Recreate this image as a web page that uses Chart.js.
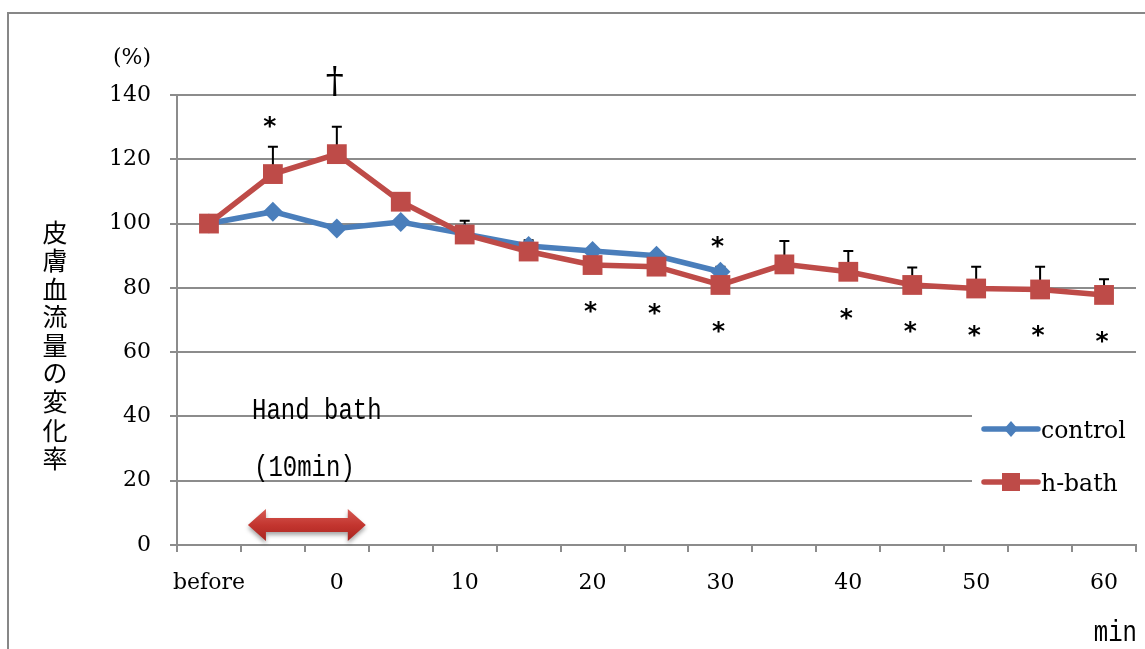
<!DOCTYPE html>
<html>
<head>
<meta charset="utf-8">
<script src="https://cdn.jsdelivr.net/npm/chart.js@4.4.0/dist/chart.umd.min.js"></script>
<style>
  html, body { margin: 0; padding: 0; background: #fff; }
  #wrap { width: 1145px; height: 649px; }
</style>
</head>
<body>
<div id="wrap"><canvas id="flow" width="1145" height="649"></canvas></div>
<script>
// time points (min), "before" = baseline
const categories = ['before', '-5', '0', '5', '10', '15', '20', '25', '30', '35', '40', '45', '50', '55', '60'];
const tickLabels = ['before', '', '0', '', '10', '', '20', '', '30', '', '40', '', '50', '', '60'];
const controlValues = [100, 103.7, 98.5, 100.5, 96.8, 93, 91.5, 90, 85, null, null, null, null, null, null];
const bathValues = [100, 115.4, 121.6, 106.8, 96.6, 91.3, 87.1, 86.6, 80.9, 87.3, 85, 80.9, 79.8, 79.5, 77.8];
const bathErrorTop = [null, 123.9, 130.1, 109.3, 100.9, 94.8, null, null, 86.6, 94.6, 91.5, 86.3, 86.6, 86.6, 82.7];
const marksAbove = ['', '*', '†', '', '', '', '', '', '*', '', '', '', '', '', ''];
const marksBelow = ['', '', '', '', '', '', '*', '*', '*', '', '*', '*', '*', '*', '*'];
const bathSpan = [1, 2]; // indices covered by the 10 min hand bath

const BLUE = '#4a7ebb';
const RED = '#be4b48';
const GRID = '#8c8c8c';
const SERIF = '"DejaVu Serif", serif';
const MONO = '"Liberation Mono", "DejaVu Sans Mono", monospace';
const STAR = 'bold 25px "DejaVu Sans"';

function inkText(ctx, txt, x, yc) {
  // vertically centre the glyph ink on yc
  const m = ctx.measureText(txt);
  ctx.fillText(txt, x, yc + (m.actualBoundingBoxAscent - m.actualBoundingBoxDescent) / 2);
}

function tallText(ctx, txt, x, y, sy) {
  ctx.save();
  ctx.translate(x, y);
  ctx.scale(1, sy);
  ctx.fillText(txt, 0, 0);
  ctx.restore();
}

const decor = {
  id: 'decor',
  beforeDraw(chart) {
    const ctx = chart.ctx;
    ctx.save();
    ctx.strokeStyle = '#878787';
    ctx.lineWidth = 2;
    ctx.beginPath();
    ctx.moveTo(8, 649);
    ctx.lineTo(8, 13);
    ctx.lineTo(1145, 13);
    ctx.stroke();
    ctx.restore();
  },
  beforeDatasetsDraw(chart) {
    const { ctx, scales: { x, y } } = chart;
    ctx.save();
    ctx.strokeStyle = '#000';
    ctx.lineWidth = 2;
    bathErrorTop.forEach((top, i) => {
      if (top == null) return;
      const px = x.getPixelForValue(i);
      const y0 = y.getPixelForValue(bathValues[i]);
      const y1 = y.getPixelForValue(top);
      ctx.beginPath();
      ctx.moveTo(px, y0);
      ctx.lineTo(px, y1);
      ctx.moveTo(px - 5, y1);
      ctx.lineTo(px + 5, y1);
      ctx.stroke();
    });
    ctx.restore();
  },
  afterDraw(chart) {
    const { ctx, scales: { x, y } } = chart;
    ctx.save();
    ctx.fillStyle = '#000';
    ctx.textAlign = 'center';
    ctx.textBaseline = 'alphabetic';

    // significance marks
    marksAbove.forEach((m, i) => {
      if (!m) return;
      const px = x.getPixelForValue(i);
      const top = y.getPixelForValue(bathErrorTop[i]);
      if (m === '†') {
        ctx.font = '36px ' + SERIF;
        inkText(ctx, m, px - 2, top - 46);
      } else {
        ctx.font = STAR;
        inkText(ctx, m, px - 3, top - 25);
      }
    });
    ctx.font = STAR;
    marksBelow.forEach((m, i) => {
      if (!m) return;
      inkText(ctx, m, x.getPixelForValue(i) - 2, y.getPixelForValue(bathValues[i]) + 42);
    });

    // unit and axis titles
    ctx.font = '22px ' + SERIF;
    ctx.textAlign = 'right';
    inkText(ctx, '(%)', 151, 57);

    ctx.font = '25px "Noto Sans CJK JP"';
    ctx.textAlign = 'center';
    Array.from('皮膚血流量の変化率').forEach((c, i) => inkText(ctx, c, 55, 232 + i * 28.3));

    ctx.font = '24px ' + MONO;
    ctx.textAlign = 'left';
    tallText(ctx, 'Hand bath', 252, 419, 1.25);
    tallText(ctx, '(10min)', 254, 476, 1.25);
    ctx.textAlign = 'right';
    tallText(ctx, 'min', 1137, 641, 1.25);

    // hand bath duration arrow
    const half = (x.getPixelForValue(1) - x.getPixelForValue(0)) / 2;
    const ax0 = x.getPixelForValue(bathSpan[0]) - half + 7;
    const ax1 = x.getPixelForValue(bathSpan[1]) + half - 3;
    const ay = y.getPixelForValue(6.2);
    const head = 18, hh = 16, sh = 7;
    const grad = ctx.createLinearGradient(0, ay - hh, 0, ay + hh);
    grad.addColorStop(0, '#d65a53');
    grad.addColorStop(0.5, '#c3352f');
    grad.addColorStop(1, '#a8241f');
    ctx.save();
    ctx.shadowColor = 'rgba(0,0,0,0.35)';
    ctx.shadowBlur = 4;
    ctx.shadowOffsetY = 3;
    ctx.fillStyle = grad;
    ctx.beginPath();
    ctx.moveTo(ax0, ay);
    ctx.lineTo(ax0 + head, ay - hh);
    ctx.lineTo(ax0 + head, ay - sh);
    ctx.lineTo(ax1 - head, ay - sh);
    ctx.lineTo(ax1 - head, ay - hh);
    ctx.lineTo(ax1, ay);
    ctx.lineTo(ax1 - head, ay + hh);
    ctx.lineTo(ax1 - head, ay + sh);
    ctx.lineTo(ax0 + head, ay + sh);
    ctx.lineTo(ax0 + head, ay + hh);
    ctx.closePath();
    ctx.fill();
    ctx.restore();

    // legend
    ctx.fillStyle = '#fff';
    ctx.fillRect(972, 398, 166, 112);
    const rows = [
      { label: 'control', color: BLUE, style: 'diamond', cy: 429 },
      { label: 'h-bath', color: RED, style: 'square', cy: 482 }
    ];
    rows.forEach(r => {
      ctx.strokeStyle = r.color;
      ctx.fillStyle = r.color;
      ctx.lineWidth = 5.5;
      ctx.lineCap = 'round';
      ctx.beginPath();
      ctx.moveTo(984, r.cy);
      ctx.lineTo(1038, r.cy);
      ctx.stroke();
      ctx.beginPath();
      if (r.style === 'diamond') {
        ctx.moveTo(1011, r.cy - 8);
        ctx.lineTo(1018, r.cy);
        ctx.lineTo(1011, r.cy + 8);
        ctx.lineTo(1004, r.cy);
      } else {
        ctx.rect(1002, r.cy - 9, 18, 18);
      }
      ctx.fill();
      ctx.fillStyle = '#000';
      ctx.font = '23.5px ' + SERIF;
      ctx.textAlign = 'left';
      inkText(ctx, r.label, 1041, r.cy);
    });
    ctx.restore();
  }
};

new Chart(document.getElementById('flow'), {
  type: 'line',
  data: {
    labels: categories,
    datasets: [
      {
        label: 'control', data: controlValues,
        borderColor: BLUE, backgroundColor: BLUE, borderWidth: 5.5,
        pointStyle: 'rectRot', pointRadius: 10, pointBorderWidth: 0,
        tension: 0, order: 2
      },
      {
        label: 'h-bath', data: bathValues,
        borderColor: RED, backgroundColor: RED, borderWidth: 5.5,
        pointStyle: 'rect', pointRadius: 14, pointBorderWidth: 0,
        tension: 0, order: 1
      }
    ]
  },
  options: {
    responsive: false,
    animation: false,
    layout: { autoPadding: false, padding: { top: 95, right: 9, left: 0, bottom: 0 } },
    plugins: { legend: { display: false }, tooltip: { enabled: false } },
    scales: {
      x: {
        offset: true,
        grid: { offset: true, drawOnChartArea: false, tickLength: 7, color: GRID, lineWidth: 2 },
        border: { color: GRID, width: 2 },
        ticks: {
          autoSkip: false, maxRotation: 0, padding: 18, color: '#000',
          font: { family: SERIF, size: 22 },
          callback: (v, i) => tickLabels[i]
        },
        afterFit: s => { s.height = 104; s.paddingLeft = 0; s.paddingRight = 0; }
      },
      y: {
        min: 0, max: 140,
        grid: { color: GRID, lineWidth: 2, tickLength: 7 },
        border: { color: GRID, width: 2 },
        ticks: { stepSize: 20, padding: 19, color: '#000', font: { family: SERIF, size: 22 } },
        afterFit: s => { s.width = 177; }
      }
    }
  },
  plugins: [decor]
});
</script>
</body>
</html>
